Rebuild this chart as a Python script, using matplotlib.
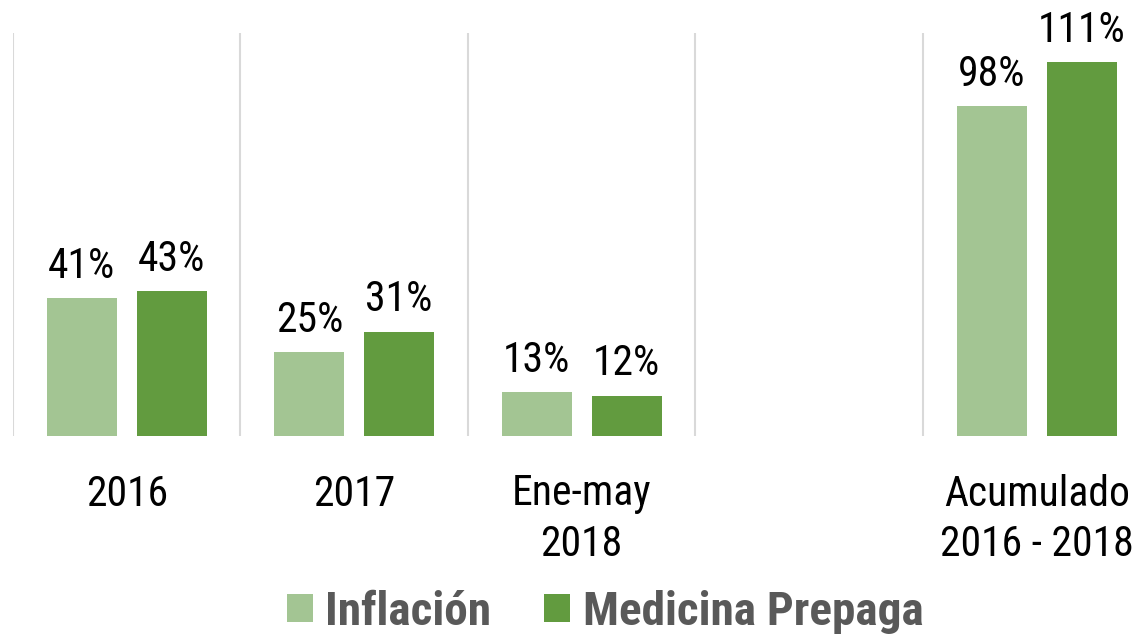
import matplotlib
matplotlib.use("Agg")
import matplotlib.pyplot as plt
from matplotlib.patches import Patch
import numpy as np

categories = ["2016", "2017", "Ene-may\n2018", "", "Acumulado\n2016 - 2018"]
inflacion = [41, 25, 13, np.nan, 98]
prepaga = [43, 31, 12, np.nan, 111]
series_names = ["Inflación", "Medicina Prepaga"]

c_light = "#A3C593"
c_dark = "#629B3F"

plt.rcParams['font.family'] = ['Roboto Condensed', 'Roboto', 'DejaVu Sans']

W, H = 1142, 635
fig = plt.figure(figsize=(W / 100, H / 100), dpi=100)
ax = fig.add_axes([13 / W, (H - 436) / H, (W - 13) / W, (436 - 33) / H])

x = np.arange(len(categories))
bw = 0.308
off = 0.197
b1 = ax.bar(x - off, inflacion, bw, color=c_light, zorder=3)
b2 = ax.bar(x + off, prepaga, bw, color=c_dark, zorder=3)

for bars, vals in ((b1, inflacion), (b2, prepaga)):
    for rect, v in zip(bars, vals):
        if np.isnan(v):
            continue
        ax.annotate(f"{v:.0f}%", (rect.get_x() + rect.get_width() / 2, v),
                    xytext=(0, 8), textcoords="offset points",
                    ha="center", va="bottom", fontsize=30, color="black")

ax.set_xlim(-0.5, -0.5 + (W - 13) / 227.5)
ax.set_ylim(0, 119.6)
for b in np.arange(-0.5, len(categories), 1.0):
    ax.axvline(b, color="#D9D9D9", lw=1.5, zorder=1)

ax.set_xticks(x)
ax.set_xticklabels(categories, fontsize=30, linespacing=1.3)
ax.tick_params(axis="x", length=0, pad=27)
ax.set_yticks([])
for s in ax.spines.values():
    s.set_visible(False)

handles = [Patch(facecolor=c_light), Patch(facecolor=c_dark)]
leg = fig.legend(handles, series_names, loc="center", bbox_to_anchor=(605 / W, (H - 612) / H),
                 ncol=2, frameon=False, handlelength=0.55, handleheight=0.53,
                 handletextpad=0.26, columnspacing=1.13,
                 prop={"size": 34, "weight": "bold"})
for t in leg.get_texts():
    t.set_color("#595959")

fig.savefig("out.png", dpi=100)
